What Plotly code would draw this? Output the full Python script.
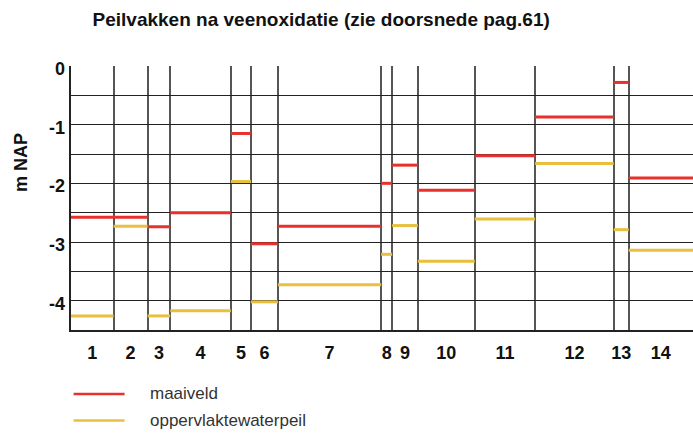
import plotly.graph_objects as go

# Peilvak boundaries along the section (relative distance) and labels
edges = [0, 42.6, 76.6, 99.3, 160.0, 180.0, 207.0, 310.3, 321.3, 347.0, 404.0, 464.3, 543.0, 558.0, 622.3]
vakken = ["1", "2", "3", "4", "5", "6", "7", "8", "9", "10", "11", "12", "13", "14"]

# Levels per peilvak in m NAP
maaiveld = [-2.58, -2.58, -2.74, -2.50, -1.15, -3.03, -2.73, -2.00, -1.69, -2.12, -1.53, -0.87, -0.28, -1.91]
waterpeil = [-4.26, -2.73, -4.26, -4.17, -1.97, -4.02, -3.73, -3.21, -2.72, -3.33, -2.61, -1.66, -2.79, -3.14]

y_ticks = [0, -1, -2, -3, -4]
y_ticktext = ["0", "-1", "-2", "-3", "-4"]

RED = "#e8302c"
YELLOW = "#e8c03e"
FONT = "Liberation Sans"
BOLD = dict(family=FONT, size=18, weight="bold", color="#111")


def steps(levels):
    xs, ys = [], []
    for i, v in enumerate(levels):
        xs += [edges[i], edges[i + 1], None]
        ys += [v, v, None]
    return xs, ys


centers = [(edges[i] + edges[i + 1]) / 2 for i in range(len(vakken))]

fig = go.Figure()
for levels, color, name in [(maaiveld, RED, "maaiveld"), (waterpeil, YELLOW, "oppervlaktewaterpeil")]:
    xs, ys = steps(levels)
    fig.add_trace(go.Scatter(x=xs, y=ys, mode="lines", name=name,
                             line=dict(color=color, width=3), showlegend=False,
                             hoverinfo="skip"))

fig.update_layout(
    width=693, height=436,
    margin=dict(l=70.7, r=0, t=65.7, b=106),
    plot_bgcolor="white", paper_bgcolor="white",
    font=dict(family=FONT, color="#111"),
    title=dict(text="Peilvakken na veenoxidatie (zie doorsnede pag.61)",
               font=dict(family=FONT, size=19, weight="bold", color="#111"),
               xref="paper", x=(321 - 70.7) / 622.3, xanchor="center",
               yref="container", y=1 - 19 / 436, yanchor="middle"),
    xaxis=dict(range=[0, edges[-1]], tickmode="array", tickvals=centers, ticktext=vakken,
               ticks="", showgrid=False, zeroline=False,
               showline=True, linecolor="#222", linewidth=1.5,
               tickfont=BOLD, ticklabelstandoff=6,
               minor=dict(tickmode="array", tickvals=edges[1:], showgrid=True,
                          gridcolor="#555", gridwidth=1.8, ticks="")),
    yaxis=dict(range=[-4.5, 0], tickmode="array", tickvals=y_ticks, showticklabels=False,
               ticks="", showgrid=True, gridcolor="#222", gridwidth=1.3, zeroline=False,
               showline=True, linecolor="#222", linewidth=1.5,
               minor=dict(dtick=0.5, tick0=0, showgrid=True, gridcolor="#222", gridwidth=1.3, ticks="")),
)

# y tick labels, set just below their grid lines
for v, t in zip(y_ticks, y_ticktext):
    fig.add_annotation(text=t, xref="paper", yref="y", x=0, y=v, xshift=-4, yshift=-3,
                       xanchor="right", yanchor="middle", showarrow=False, font=BOLD)

# y-axis title
fig.add_annotation(text="m NAP", xref="paper", yref="paper",
                   x=(20 - 70.7) / 622.3, y=(330 - 162.5) / 264.3, textangle=-90,
                   showarrow=False, xanchor="center", yanchor="middle",
                   font=dict(family=FONT, size=18, weight="bold", color="#111"))

# legend drawn below the chart
for name, color, ypix in [("maaiveld", RED, 394), ("oppervlaktewaterpeil", YELLOW, 420.5)]:
    yp = (330 - ypix) / 264.3
    fig.add_shape(type="line", xref="paper", yref="paper",
                  x0=(73.3 - 70.7) / 622.3, x1=(124.3 - 70.7) / 622.3, y0=yp, y1=yp,
                  line=dict(color=color, width=2.5))
    fig.add_annotation(text=name, xref="paper", yref="paper",
                       x=(147.5 - 70.7) / 622.3, y=yp, xanchor="left", yanchor="middle",
                       showarrow=False, font=dict(family=FONT, size=17, color="#333"))

fig.write_html("out.html")
